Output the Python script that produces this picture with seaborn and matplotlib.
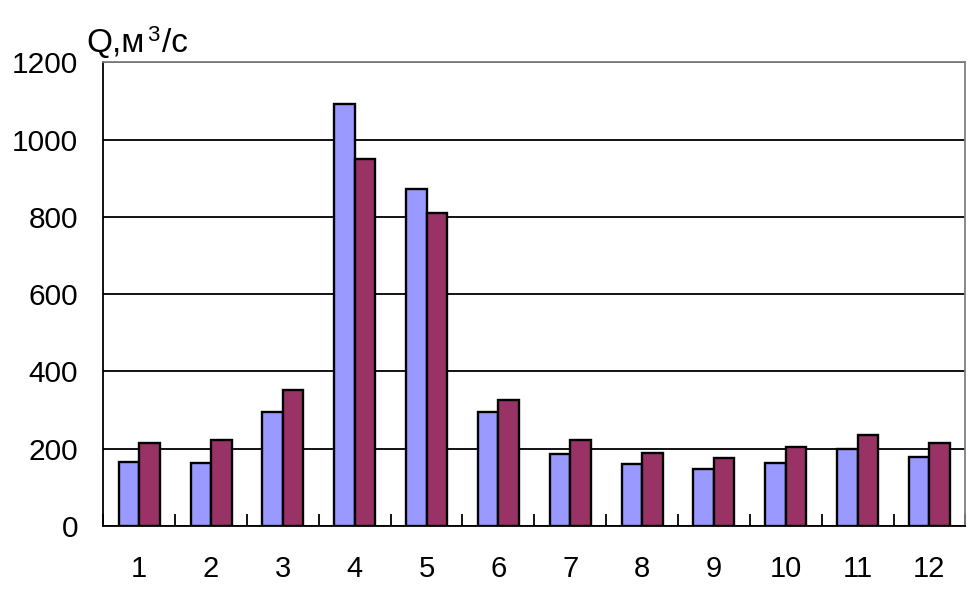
import matplotlib
matplotlib.use("Agg")
import matplotlib.pyplot as plt
import seaborn as sns
import pandas as pd
import numpy as np

# Данные: средние месячные расходы воды, м3/с
months = ['1', '2', '3', '4', '5', '6', '7', '8', '9', '10', '11', '12']
series_1 = [165, 162, 294, 1091, 871, 294, 186, 160, 147, 162, 198, 178]
series_2 = [214, 222, 351, 949, 809, 325, 222, 188, 175, 204, 235, 215]
series_names = ['ряд 1', 'ряд 2']
colors = ['#9999FF', '#993366']

df = pd.DataFrame({
    'month': months * 2,
    'Q': series_1 + series_2,
    'series': [series_names[0]] * len(months) + [series_names[1]] * len(months),
})

sns.set_style('white')
plt.rcParams['font.family'] = ['Liberation Sans', 'DejaVu Sans']
plt.rcParams['text.color'] = 'black'
plt.rcParams['xtick.labelcolor'] = 'black'
plt.rcParams['ytick.labelcolor'] = 'black'

fig = plt.figure(figsize=(9.7, 6.04), dpi=100)
ax = fig.add_axes([0.1065, 0.1291, 0.8887, 0.7679])

sns.barplot(data=df, x='month', y='Q', hue='series', palette=colors,
            width=0.57, edgecolor='black', linewidth=1.7, saturation=1,
            legend=False, ax=ax, errorbar=None)

ax.set_xlim(-0.5, len(months) - 0.5)
ax.set_ylim(0, 1200)
ax.set_yticks(np.arange(0, 1201, 200))
ax.yaxis.grid(True, color='black', linewidth=1.3)
ax.set_axisbelow(True)

ax.set_xlabel('')
ax.set_ylabel('')

# подписи месяцев по центру, засечки между категориями
ax.tick_params(axis='x', which='major', length=0, pad=21, labelsize=21)
ax.set_xticks(np.arange(-0.5, len(months)), minor=True)
ax.tick_params(axis='x', which='minor', direction='in', length=9, width=1.3,
               color='black', bottom=True)
ax.tick_params(axis='y', length=0, pad=18, labelsize=21.5)

for side in ['left', 'bottom']:
    ax.spines[side].set_color('black')
    ax.spines[side].set_linewidth(1.3)
for side in ['top', 'right']:
    ax.spines[side].set_visible(True)
    ax.spines[side].set_color('#808080')
    ax.spines[side].set_linewidth(1.3)

# подпись оси: Q,м³/с с крупной надстрочной тройкой
fig.text(86 / 970, 1 - 52 / 604, 'Q,м', fontsize=24, ha='left', va='baseline')
fig.text(147 / 970, 1 - 41 / 604, '3', fontsize=16, ha='left', va='baseline')
fig.text(162 / 970, 1 - 52 / 604, '/с', fontsize=24, ha='left', va='baseline')

fig.savefig('out.png', dpi=100)
plt.close(fig)
